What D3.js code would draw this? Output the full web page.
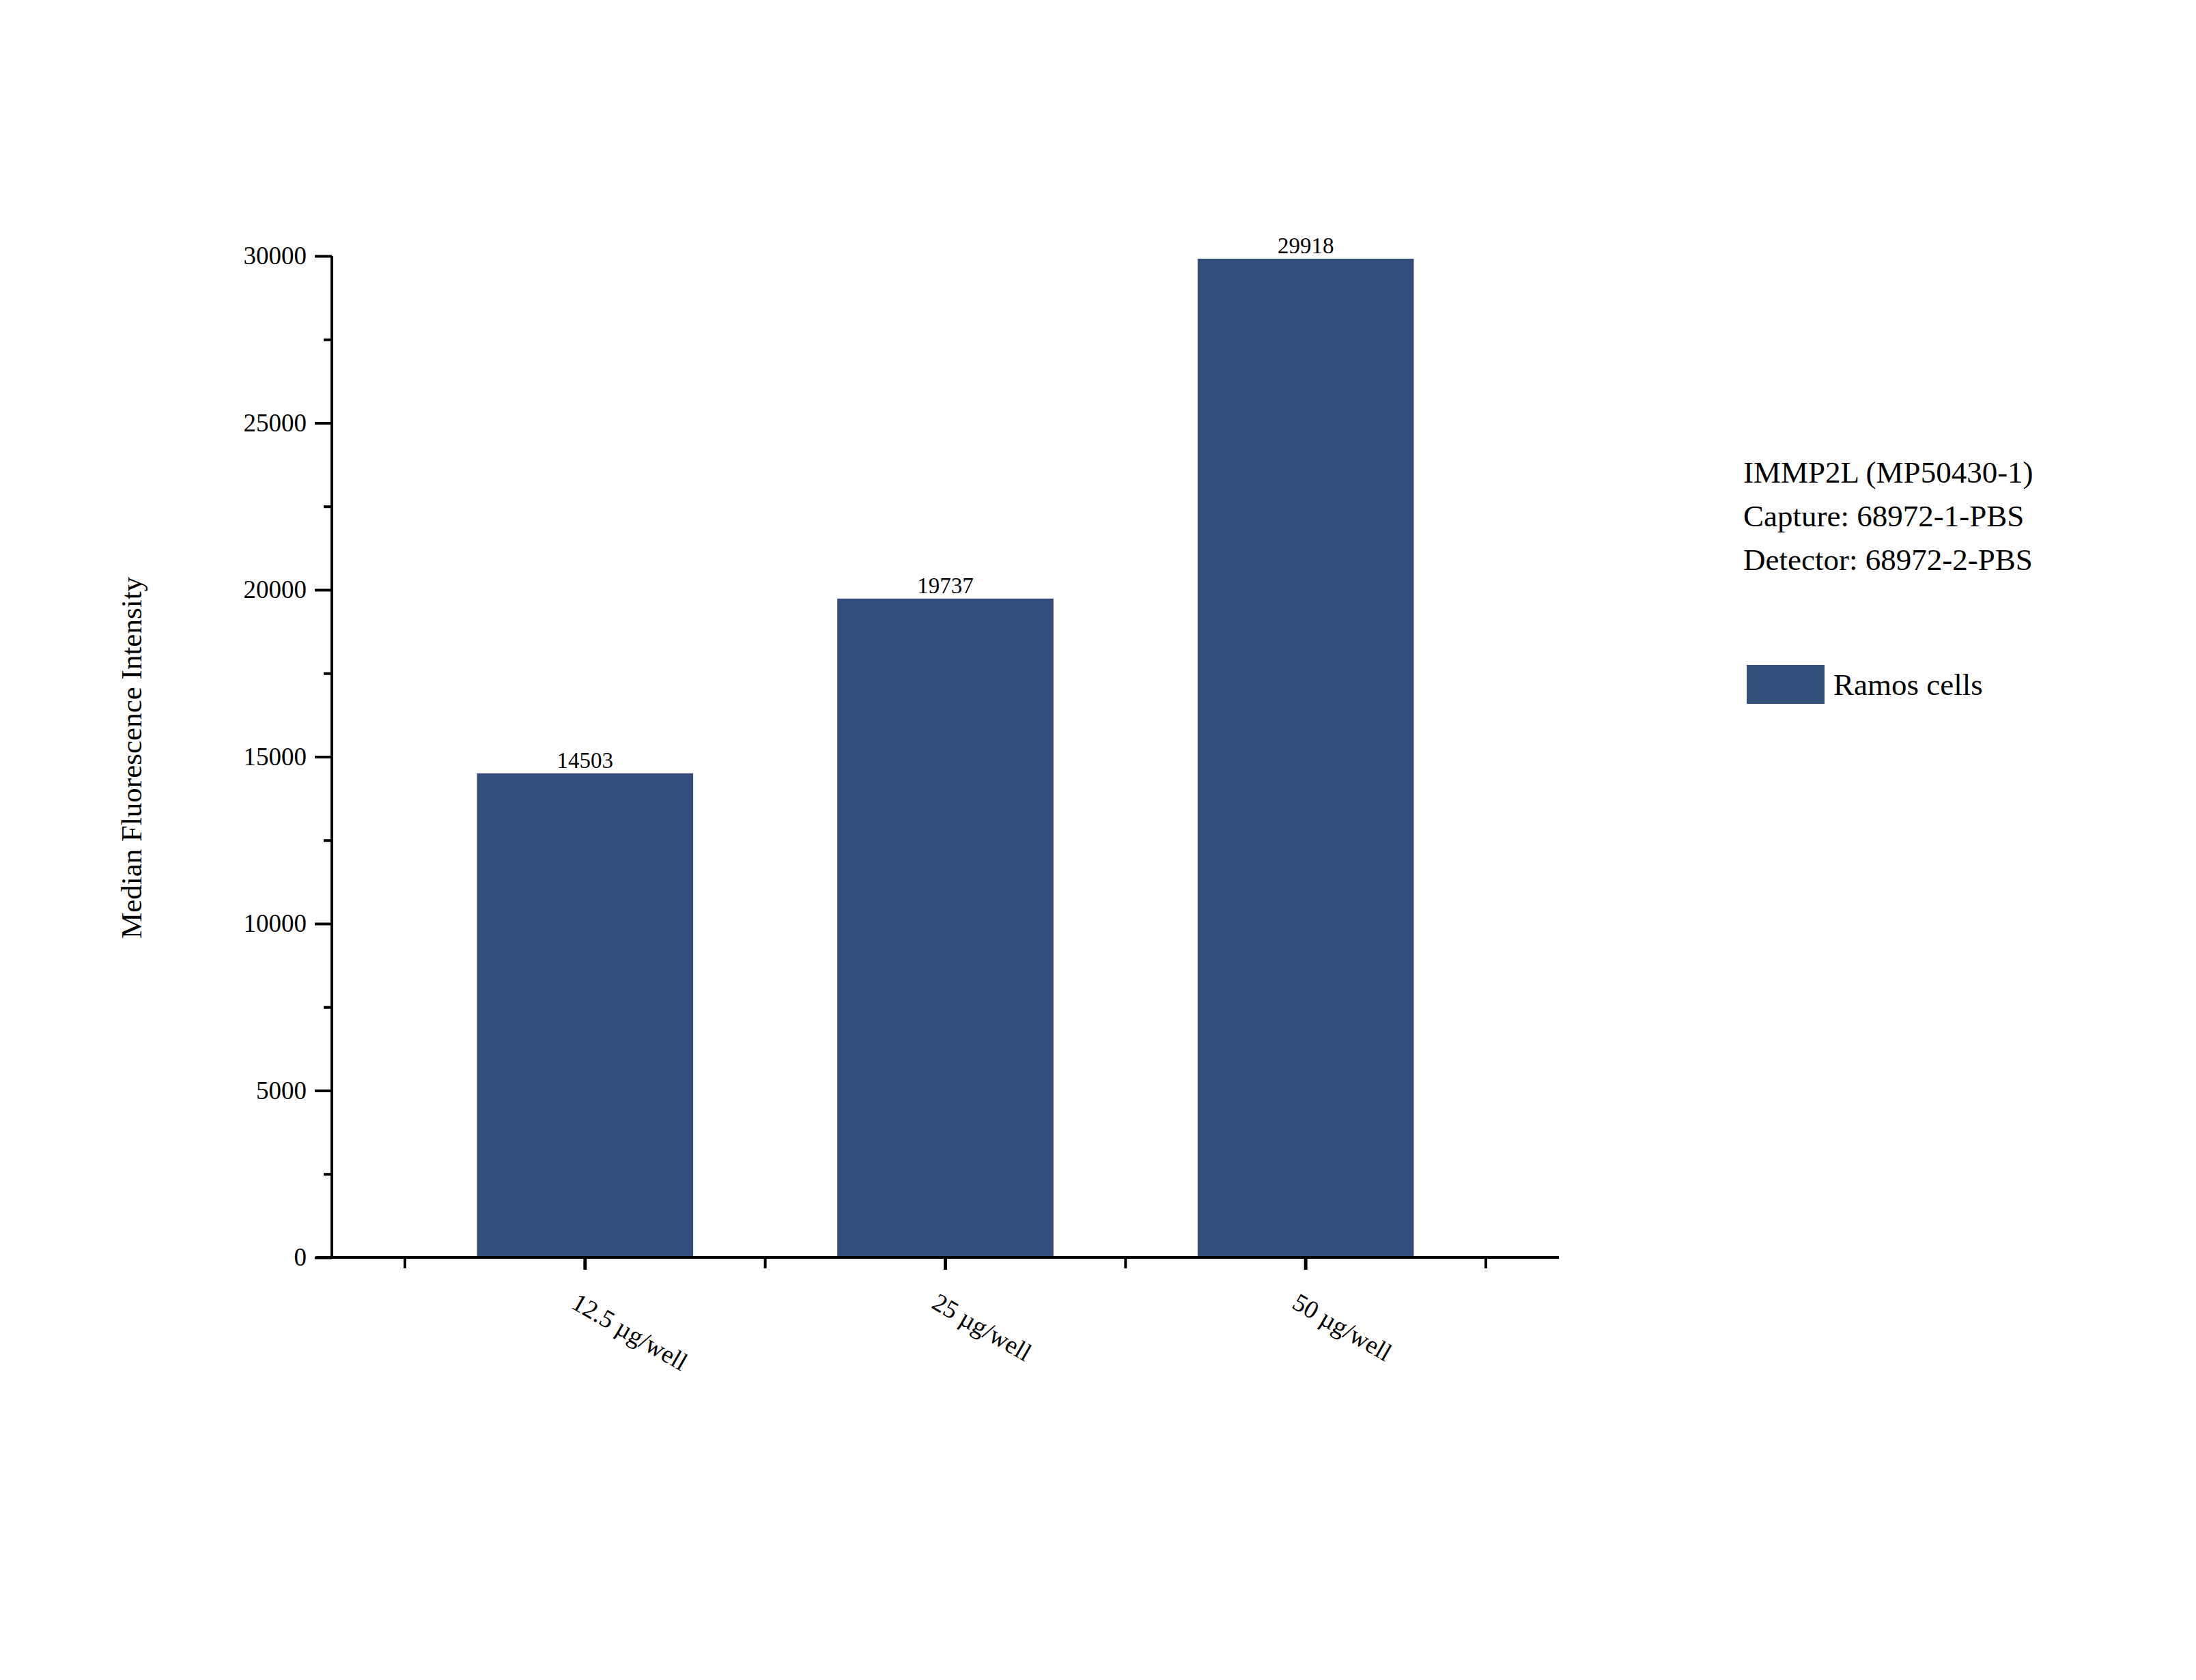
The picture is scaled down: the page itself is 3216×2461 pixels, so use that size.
<!DOCTYPE html>
<html><head><meta charset="utf-8">
<script src="https://cdn.jsdelivr.net/npm/d3@7"></script>
<style>body{margin:0;background:#fff}text{font-family:"Liberation Serif","Times New Roman",serif;fill:#000}</style>
</head><body><svg id="c" width="3216" height="2461"></svg>
<script>
const categories = ["12.5 µg/well", "25 µg/well", "50 µg/well"];
const values = [14503, 19737, 29918];
const yTicks = [0, 5000, 10000, 15000, 20000, 25000, 30000];
const seriesName = "Ramos cells";
const infoLines = ["IMMP2L (MP50430-1)", "Capture: 68972-1-PBS", "Detector: 68972-2-PBS"];
const color = "#314f79";

const svg = d3.select("#c");
const x = d3.scaleBand().domain(categories).range([593, 2176]).paddingInner(0.4).paddingOuter(0.2);
const y = d3.scaleLinear().domain([0, 30000]).range([1842, 375]);

// bars
svg.selectAll("rect.bar").data(values).enter().append("rect")
  .attr("x", (d,i)=>x(categories[i])).attr("width", x.bandwidth())
  .attr("y", d=>y(d)).attr("height", d=>y(0)-y(d)).attr("fill", color);
svg.selectAll("text.val").data(values).enter().append("text")
  .attr("x", (d,i)=>x(categories[i])+x.bandwidth()/2).attr("y", d=>y(d)-8)
  .attr("text-anchor","middle").attr("font-size",33).text(d=>d);

// y axis
const ya = svg.append("g").attr("transform","translate(486,0)")
  .call(d3.axisLeft(y).tickValues(yTicks).tickSize(25).tickPadding(12).tickFormat(d3.format("d")));
ya.selectAll("text").attr("font-size",37);
svg.append("g").attr("transform","translate(486,0)")
  .call(d3.axisLeft(y).tickValues(d3.range(2500,30000,5000)).tickSize(12).tickFormat(""))
  .select(".domain").remove();
svg.selectAll("path.domain, .tick line").attr("stroke","#000").attr("stroke-width",4);
ya.select(".domain").attr("d","M486,1842V375").attr("transform","translate(-486,0)");

// x axis
svg.append("line").attr("x1",463).attr("x2",2283).attr("y1",1842).attr("y2",1842).attr("stroke","#000").attr("stroke-width",4);
const bounds = [0,1,2,3].map(i=>x.range()[0]+ (i===0?0:0) + i*x.step());
const step = x.step(); const start = x(categories[0]) - x.step()*x.paddingInner()/2;
svg.selectAll("line.bt").data([0,1,2,3]).enter().append("line")
  .attr("x1",i=>start+i*step).attr("x2",i=>start+i*step).attr("y1",1842).attr("y2",1858)
  .attr("stroke","#000").attr("stroke-width",4);
svg.selectAll("line.ct").data(categories).enter().append("line")
  .attr("x1",d=>x(d)+x.bandwidth()/2).attr("x2",d=>x(d)+x.bandwidth()/2).attr("y1",1842).attr("y2",1860)
  .attr("stroke","#000").attr("stroke-width",5);
svg.selectAll("text.cat").data(categories).enter().append("text")
  .attr("transform",d=>`translate(${x(d)+x.bandwidth()/2-22},${1915}) rotate(30)`)
  .attr("font-size",37).text(d=>d);

// y label
svg.append("text").attr("transform","translate(207,1110) rotate(-90)").attr("text-anchor","middle")
  .attr("font-size",43).text("Median Fluorescence Intensity");

// info + legend
svg.selectAll("text.info").data(infoLines).enter().append("text")
  .attr("x",2553).attr("y",(d,i)=>707+i*64).attr("font-size",45).text(d=>d);
svg.append("rect").attr("x",2558).attr("y",974).attr("width",114).attr("height",57).attr("fill",color);
svg.append("text").attr("x",2685).attr("y",1018).attr("font-size",45).text(seriesName);
</script></body></html>
